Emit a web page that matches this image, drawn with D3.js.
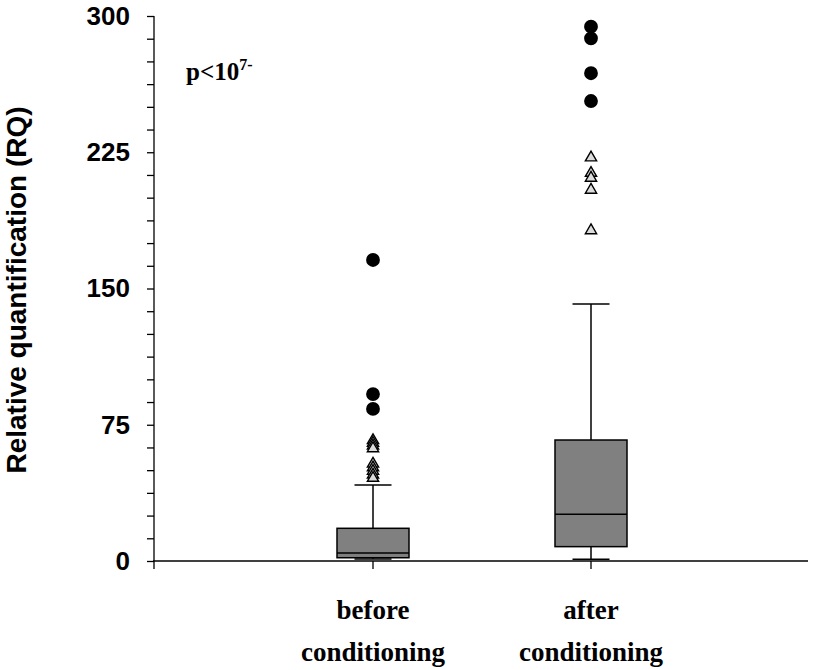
<!DOCTYPE html>
<html>
<head>
<meta charset="utf-8">
<script src="https://cdn.jsdelivr.net/npm/d3@7"></script>
<style>
  body { margin: 0; background: #fff; }
  .axis text { font-family: "Liberation Sans", Arial, sans-serif; font-weight: bold; font-size: 26px; fill: #000; }
</style>
</head>
<body>
<script>
var width = 814;
var height = 670;

// box statistics per group
var categories = ['before', 'after'];
var whiskerLow = [1.1, 0.9];
var q1 = [1.8, 7.9];
var median = [4.4, 25.7];
var q3 = [18.0, 66.6];
var whiskerHigh = [41.8, 141.5];

// outliers: circles = extreme, triangles = mild
var extremeBefore = [165.7, 91.9, 83.7];
var extremeAfter = [294.1, 287.7, 268.5, 253.2];
var mildBefore = [67, 65.5, 64, 62.5, 54, 52, 50, 48, 46.2];
var mildAfter = [222.6, 214.1, 211.4, 204.8, 182.5];

var yTicks = [0, 75, 150, 225, 300];

var xScale = d3.scalePoint()
    .domain(categories)
    .range([155, 809])
    .padding(1);

var yScale = d3.scaleLinear()
    .domain([0, 300])
    .range([561, 16]);

var svg = d3.select('body')
    .append('svg')
    .attr('width', width)
    .attr('height', height);

// y axis with minor ticks
var yAxis = d3.axisLeft(yScale)
    .tickValues(d3.range(0, 301, 12.5))
    .tickSize(7)
    .tickFormat(function(d) { return yTicks.indexOf(d) >= 0 ? d : ''; })
    .tickSizeOuter(0);

var gy = svg.append('g')
    .attr('class', 'axis')
    .attr('transform', 'translate(154,0)')
    .call(yAxis);
gy.selectAll('line').attr('stroke', '#000').attr('stroke-width', 1.3);
gy.select('.domain').attr('stroke', '#000').attr('stroke-width', 1.3)
    .attr('d', 'M0,' + yScale(300) + 'V' + (yScale(0) + 8));
gy.selectAll('text').attr('dx', '-14px');

// x axis
svg.append('line')
    .attr('x1', 153).attr('x2', 808)
    .attr('y1', yScale(0)).attr('y2', yScale(0))
    .attr('stroke', '#000').attr('stroke-width', 1.3);

svg.append('g')
    .selectAll('line')
    .data(categories)
    .enter()
    .append('line')
    .attr('x1', function(d) { return xScale(d); })
    .attr('x2', function(d) { return xScale(d); })
    .attr('y1', yScale(0))
    .attr('y2', yScale(0) + 8)
    .attr('stroke', '#000').attr('stroke-width', 1.3);

var boxW = 72;
var capW = 37;

var groups = svg.append('g')
    .selectAll('g')
    .data(categories)
    .enter()
    .append('g');

// whiskers
groups.append('line')
    .attr('x1', function(d) { return xScale(d); })
    .attr('x2', function(d) { return xScale(d); })
    .attr('y1', function(d, i) { return yScale(whiskerHigh[i]); })
    .attr('y2', function(d, i) { return yScale(q3[i]); })
    .attr('stroke', '#000').attr('stroke-width', 1.5);

groups.append('line')
    .attr('x1', function(d) { return xScale(d); })
    .attr('x2', function(d) { return xScale(d); })
    .attr('y1', function(d, i) { return yScale(q1[i]); })
    .attr('y2', function(d, i) { return yScale(whiskerLow[i]); })
    .attr('stroke', '#000').attr('stroke-width', 1.5);

groups.append('line')
    .attr('x1', function(d) { return xScale(d) - capW / 2; })
    .attr('x2', function(d) { return xScale(d) + capW / 2; })
    .attr('y1', function(d, i) { return yScale(whiskerHigh[i]); })
    .attr('y2', function(d, i) { return yScale(whiskerHigh[i]); })
    .attr('stroke', '#000').attr('stroke-width', 1.5);

groups.append('line')
    .attr('x1', function(d) { return xScale(d) - capW / 2; })
    .attr('x2', function(d) { return xScale(d) + capW / 2; })
    .attr('y1', function(d, i) { return yScale(whiskerLow[i]); })
    .attr('y2', function(d, i) { return yScale(whiskerLow[i]); })
    .attr('stroke', '#000').attr('stroke-width', 1.5);

// boxes
groups.append('rect')
    .attr('x', function(d) { return xScale(d) - boxW / 2; })
    .attr('width', boxW)
    .attr('y', function(d, i) { return yScale(q3[i]); })
    .attr('height', function(d, i) { return yScale(q1[i]) - yScale(q3[i]); })
    .attr('fill', '#808080')
    .attr('stroke', '#000')
    .attr('stroke-width', 1.5);

groups.append('line')
    .attr('x1', function(d) { return xScale(d) - boxW / 2; })
    .attr('x2', function(d) { return xScale(d) + boxW / 2; })
    .attr('y1', function(d, i) { return yScale(median[i]); })
    .attr('y2', function(d, i) { return yScale(median[i]); })
    .attr('stroke', '#000').attr('stroke-width', 1.5);

// outliers
function outliers(cat, vals, shape) {
    var sym = d3.symbol().type(shape === 'circle' ? d3.symbolCircle : d3.symbolTriangle)
        .size(shape === 'circle' ? 150 : 55);
    svg.append('g')
        .selectAll('path')
        .data(vals)
        .enter()
        .append('path')
        .attr('d', sym)
        .attr('transform', function(d) {
            return 'translate(' + xScale(cat) + ',' + (yScale(d) + (shape === 'circle' ? 0 : 1)) + ')';
        })
        .attr('fill', shape === 'circle' ? '#000' : '#dcdcdc')
        .attr('stroke', '#000')
        .attr('stroke-width', shape === 'circle' ? 0 : 1.4);
}
outliers('before', mildBefore, 'tri');
outliers('after', mildAfter, 'tri');
outliers('before', extremeBefore, 'circle');
outliers('after', extremeAfter, 'circle');

// category labels
var catLabels = svg.append('g')
    .selectAll('text')
    .data(categories)
    .enter()
    .append('text')
    .attr('x', function(d) { return xScale(d); })
    .attr('text-anchor', 'middle')
    .style('font-family', '"Liberation Serif", "Times New Roman", serif')
    .style('font-weight', 'bold')
    .style('font-size', '27px');
catLabels.append('tspan')
    .attr('x', function(d) { return xScale(d); })
    .attr('y', 619)
    .text(function(d) { return d; });
catLabels.append('tspan')
    .attr('x', function(d) { return xScale(d); })
    .attr('y', 661)
    .text('conditioning');

// y axis title
svg.append('text')
    .attr('transform', 'translate(26,290) rotate(-90)')
    .attr('text-anchor', 'middle')
    .style('font-family', '"Liberation Sans", Arial, sans-serif')
    .style('font-weight', 'bold')
    .style('font-size', '28px')
    .text('Relative quantification (RQ)');

// p value
var p = svg.append('text')
    .attr('x', 186)
    .attr('y', 80)
    .style('font-family', '"Liberation Serif", "Times New Roman", serif')
    .style('font-weight', 'bold')
    .style('font-size', '25px')
    .text('p<10');
p.append('tspan')
    .attr('dy', -10)
    .style('font-size', '16px')
    .text('7-');
</script>
</body>
</html>
